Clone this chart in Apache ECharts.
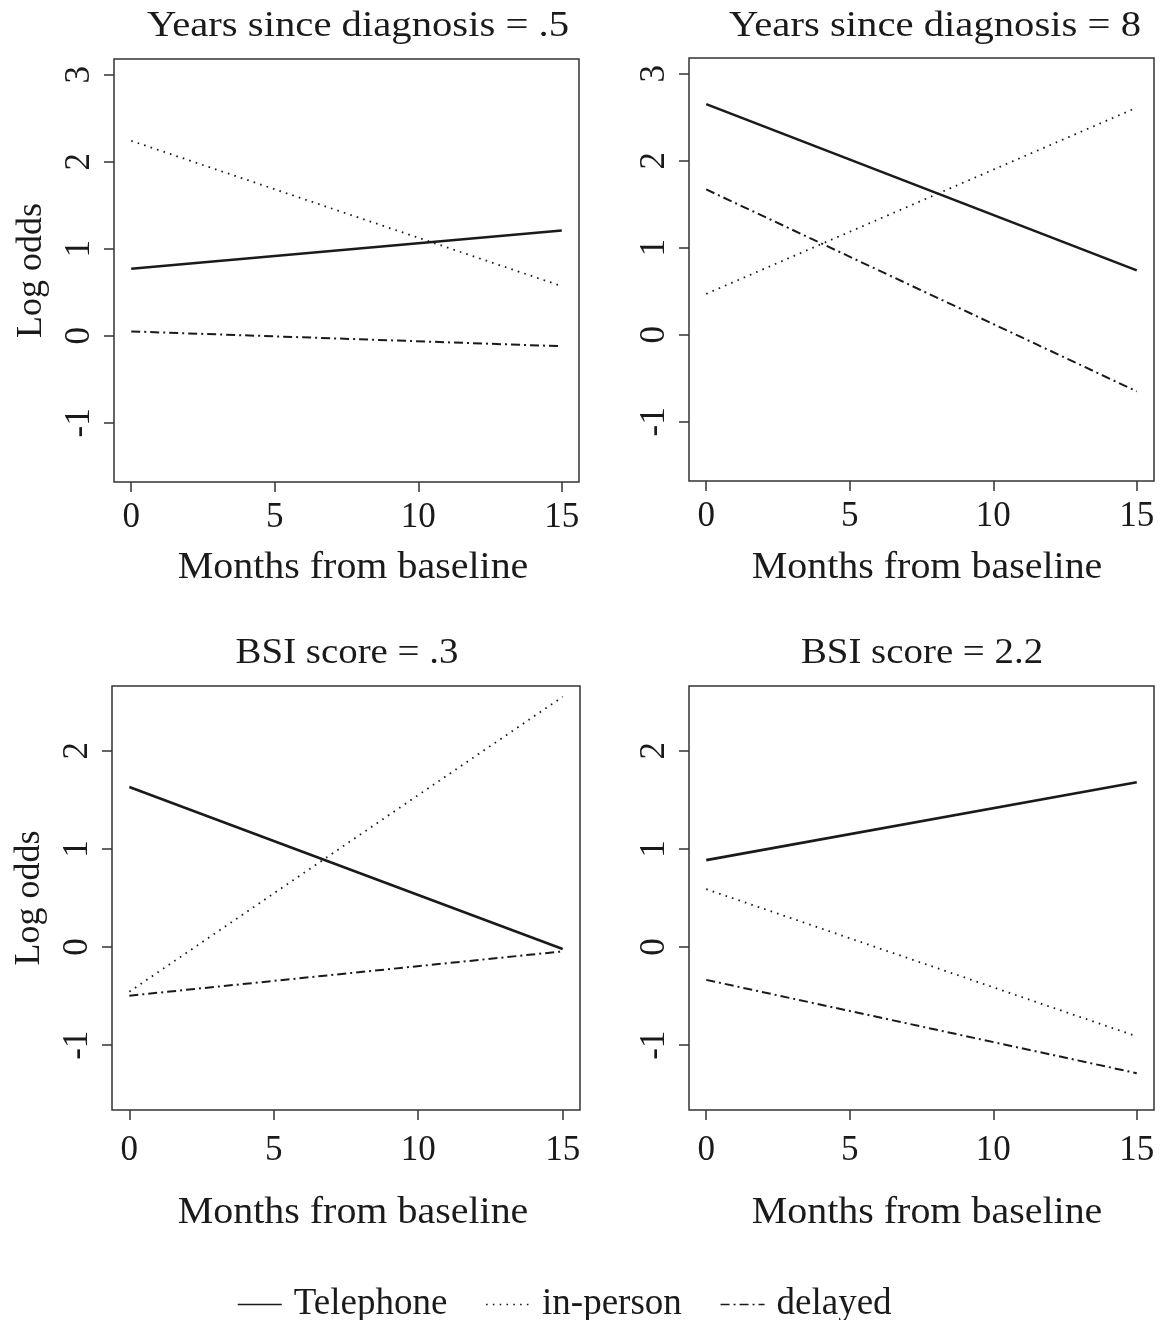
<!DOCTYPE html>
<html>
<head>
<meta charset="utf-8">
<script src="https://cdn.jsdelivr.net/npm/echarts@6/dist/echarts.min.js"></script>
<style>
html,body{margin:0;padding:0;background:#fff;}
#chart{width:1169px;height:1320px;}
</style>
</head>
<body>
<div id="chart"></div>
<script>
// ---- data ----
var months = [0, 15];
var seriesNames = ['Telephone', 'in-person', 'delayed'];
var panelTitles = ['Years since diagnosis = .5', 'Years since diagnosis = 8', 'BSI score = .3', 'BSI score = 2.2'];
var xAxisTitle = 'Months from baseline';
var yAxisTitle = 'Log odds';
var xTicks = [0, 5, 10, 15];
var yTicksTop = [-1, 0, 1, 2, 3];
var yTicksBottom = [-1, 0, 1, 2];

var telephoneP1 = [0.77, 1.21];
var inPersonP1 = [2.24, 0.57];
var delayedP1 = [0.05, -0.12];

var telephoneP2 = [2.65, 0.74];
var inPersonP2 = [0.47, 2.61];
var delayedP2 = [1.67, -0.65];

var telephoneP3 = [1.63, -0.02];
var inPersonP3 = [-0.455, 2.55];
var delayedP3 = [-0.495, -0.044];

var telephoneP4 = [0.886, 1.68];
var inPersonP4 = [0.59, -0.91];
var delayedP4 = [-0.334, -1.285];

var panels = [
  [telephoneP1, inPersonP1, delayedP1],
  [telephoneP2, inPersonP2, delayedP2],
  [telephoneP3, inPersonP3, delayedP3],
  [telephoneP4, inPersonP4, delayedP4]
];

// ---- layout / style ----
var FONT = '"Liberation Serif", "DejaVu Serif", serif';
var INK = '#1a1a1a';
var AX = '#333333';
var grids = [
  {left: 114, top: 59, width: 465, height: 423},
  {left: 689, top: 58, width: 465, height: 423},
  {left: 112, top: 686, width: 468, height: 424},
  {left: 689, top: 686, width: 465, height: 424}
];
var titlePos = [[358, 27], [935, 27], [347, 654], [922, 654]];
var titleScale = [1.13, 1.13, 1.08, 1.08];
var xNamePos = [[353, 568], [927, 568], [353, 1213], [927, 1213]];
var yRanges = [[-1.68, 3.18], [-1.68, 3.18], [-1.66, 2.66], [-1.66, 2.66]];
var lineStyles = [
  {color: INK, width: 2.6, type: 'solid'},
  {color: INK, width: 1.8, type: [1.6, 5.2], cap: 'butt'},
  {color: INK, width: 2, type: [9, 4, 2, 4], cap: 'butt'}
];

var xAxes = [], yAxes = [], series = [], graphics = [];
grids.forEach(function (g, i) {
  g.show = true;
  g.borderColor = AX;
  g.borderWidth = 1.5;
  g.backgroundColor = 'transparent';
  g.containLabel = false;
  var bottomRow = i >= 2;
  xAxes.push({
    type: 'value', gridIndex: i, min: -0.6, max: 15.6,
    axisLine: {show: false, onZero: false},
    axisTick: {show: true, length: 10, customValues: xTicks, lineStyle: {color: AX, width: 1.5}},
    axisLabel: {show: true, customValues: xTicks, margin: bottomRow ? 23 : 18, fontFamily: FONT, fontSize: 35, color: INK},
    splitLine: {show: false}
  });
  var yt = i >= 2 ? yTicksBottom : yTicksTop;
  var leftCol = (i % 2 === 0);
  yAxes.push({
    type: 'value', gridIndex: i, min: yRanges[i][0], max: yRanges[i][1],
    name: leftCol ? yAxisTitle : '', nameLocation: 'middle', nameGap: 64,
    nameTextStyle: {fontFamily: FONT, fontSize: 36, color: INK},
    axisLine: {show: false, onZero: false},
    axisTick: {show: true, length: 10, customValues: yt, lineStyle: {color: AX, width: 1.5}},
    axisLabel: {show: true, customValues: yt, rotate: 90, margin: 17, fontFamily: FONT, fontSize: 35, color: INK},
    splitLine: {show: false}
  });
  panels[i].forEach(function (vals, k) {
    series.push({
      type: 'line', name: seriesNames[k], xAxisIndex: i, yAxisIndex: i,
      data: months.map(function (m, j) { return [m, vals[j]]; }),
      symbol: 'none', showSymbol: false, silent: true, animation: false,
      lineStyle: lineStyles[k], itemStyle: {color: INK}
    });
  });
  graphics.push({
    type: 'text', x: titlePos[i][0], y: titlePos[i][1], scaleX: titleScale[i],
    style: {text: panelTitles[i], font: '36px ' + FONT, fill: INK, align: 'center', verticalAlign: 'middle'}
  });
  graphics.push({
    type: 'text', x: xNamePos[i][0], y: xNamePos[i][1], scaleX: 1.08,
    style: {text: xAxisTitle, font: '37px ' + FONT, fill: INK, align: 'center', verticalAlign: 'middle'}
  });
});

var chart = echarts.init(document.getElementById('chart'), null, {renderer: 'canvas'});
chart.setOption({
  backgroundColor: '#ffffff',
  animation: false,
  grid: grids,
  xAxis: xAxes,
  yAxis: yAxes,
  series: series,
  graphic: graphics,
  legend: {
    data: seriesNames, left: 232, top: 1281, orient: 'horizontal',
    itemWidth: 44, itemHeight: 20, itemGap: 38,
    itemStyle: {opacity: 0, borderWidth: 0},
    lineStyle: {width: 1.5},
    textStyle: {fontFamily: FONT, fontSize: 37, color: INK, padding: [0, 0, 0, 7]},
    selectedMode: false
  }
});
</script>
</body>
</html>
